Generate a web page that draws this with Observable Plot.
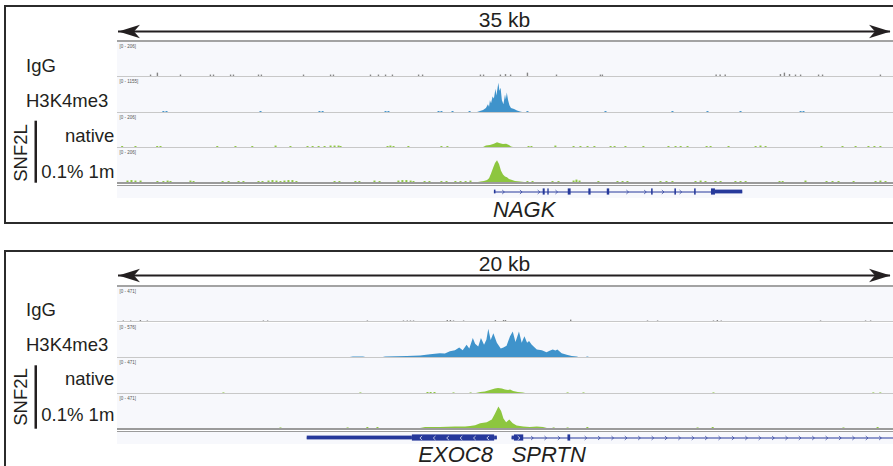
<!DOCTYPE html>
<html><head><meta charset="utf-8">
<script src="https://cdn.jsdelivr.net/npm/d3@7"></script>
<script src="https://cdn.jsdelivr.net/npm/@observablehq/plot@0.6"></script>
<style>
body{margin:0;background:#fff;}
#root{position:relative;width:893px;height:466px;overflow:hidden;background:#fff;font-family:"Liberation Sans",Arial,Helvetica,sans-serif;color:#231f20}
#root svg{position:absolute;display:block}
</style></head><body><div id="root"></div>
<script>
// ---------------- DATA ----------------
const trackNames = ["IgG", "H3K4me3", "native", "0.1% 1m"];
const groupLabel = "SNF2L";

// Panel A: NAGK locus, 35 kb window (positions in kb from window start)
const spanA = 35;
const scaleLabelA = "35 kb";
const rangeA = [206, 1155, 206, 206];
const igA_noise = [[1.49,9],[1.80,21],[2.84,9],[4.19,9],[4.33,9],[5.10,9],[5.23,9],[6.36,9],[6.49,9],[8.39,9],[9.61,9],[9.74,9],[11.41,9],[11.77,9],[12.09,9],[12.40,9],[13.58,9],[13.76,9],[16.37,9],[16.51,9],[17.27,9],[17.50,12],[17.73,9],[18.49,21],[19.80,9],[21.78,9],[21.87,9],[27.00,9],[27.18,9],[27.41,9],[29.90,12],[30.08,21],[30.31,12],[30.58,9],[30.81,9],[31.62,9],[31.80,9],[34.41,9]];
const h3A_peak = [[16.24,0],[16.37,33],[16.51,66],[16.64,132],[16.73,264],[16.78,180],[16.82,396],[16.87,297],[16.94,528],[17.00,462],[17.07,792],[17.11,560],[17.14,700],[17.20,990],[17.25,726],[17.30,825],[17.36,396],[17.43,264],[17.50,594],[17.54,430],[17.58,660],[17.64,396],[17.70,231],[17.77,132],[17.91,99],[18.04,50],[18.18,17],[18.27,0]];
const h3A_noise = [[2.07,33],[2.21,33],[6.45,33],[9.11,33],[9.25,33],[12.09,33],[12.22,33],[14.48,33],[14.61,33],[15.11,33],[15.88,33],[18.49,33],[22.01,33],[25.03,33],[26.61,33],[28.10,33],[30.81,33],[30.94,33]];
const natA_peak = [[16.51,0],[16.64,9],[16.82,12],[17.00,21],[17.14,29],[17.27,24],[17.41,18],[17.55,21],[17.68,12],[17.77,3],[17.86,0]];
const natA_noise = [[0.21,6],[0.81,6],[1.79,6],[1.94,6],[4.50,6],[5.32,6],[6.08,6],[7.13,9],[7.80,6],[8.57,6],[8.80,6],[9.07,6],[9.34,6],[9.61,9],[9.79,9],[9.97,9],[10.06,6],[12.18,6],[12.31,9],[12.45,6],[13.12,6],[14.61,6],[14.88,6],[18.54,6],[18.67,6],[19.75,9],[20.57,6],[20.88,6],[21.20,6],[21.51,6],[22.24,6],[22.42,6],[22.91,6],[23.72,6],[24.85,6],[25.17,6],[25.40,6],[25.71,6],[26.57,6],[26.75,6],[27.56,6],[28.78,6],[29.00,9],[29.23,6],[31.75,6],[32.70,6],[33.29,6],[33.87,6],[34.14,6],[34.41,6]];
const digA_peak = [[16.28,0],[16.40,3],[16.55,6],[16.69,12],[16.78,24],[16.87,53],[16.96,88],[17.05,118],[17.14,135],[17.23,112],[17.32,71],[17.41,47],[17.50,35],[17.59,29],[17.68,18],[17.82,12],[17.95,6],[18.18,3],[18.36,0]];
const digA_noise = [[0.45,9],[0.63,12],[0.81,9],[1.04,9],[1.80,6],[2.07,6],[2.26,9],[2.39,6],[3.29,9],[3.43,6],[4.74,6],[5.01,6],[5.46,6],[5.68,6],[6.36,6],[6.54,6],[6.81,9],[6.99,12],[7.17,9],[7.35,6],[7.53,9],[7.71,12],[7.89,12],[8.07,6],[9.79,6],[10.01,6],[10.73,6],[10.91,6],[11.59,9],[11.82,6],[12.67,9],[12.85,12],[13.03,12],[13.22,9],[13.35,6],[13.85,6],[14.07,6],[14.61,6],[14.84,6],[15.24,6],[15.47,6],[15.70,6],[15.92,9],[18.49,6],[18.72,6],[19.62,6],[19.89,6],[20.57,9],[20.70,15],[20.84,9],[21.69,6],[22.55,6],[22.78,6],[23.00,6],[24.49,6],[24.76,6],[25.03,6],[26.07,6],[26.30,9],[26.52,6],[26.97,6],[27.20,6],[27.87,6],[28.10,6],[28.33,6],[29.86,6],[30.00,6],[31.03,9],[31.98,6],[32.25,6],[32.52,6],[33.20,6],[34.19,6],[34.41,9],[34.64,6]];
const genesA = [{name: "NAGK", start: 17.00, end: 28.20, strand: "+"}];
const cdsA = [[19.20,19.29],[19.41,19.47],[20.33,20.46],[21.26,21.36],[22.09,22.20],[24.09,24.16],[25.14,25.21],[26.03,26.10],[26.79,26.97]];
const utrA = [[17.00,17.07],[26.97,28.20]];

// Panel B: EXOC8 / SPRTN locus, 20 kb window
const spanB = 20;
const scaleLabelB = "20 kb";
const rangeB = [471, 576, 471, 471];
const igB_noise = [[0.15,8],[0.34,8],[0.59,14],[0.77,8],[3.76,8],[3.87,8],[6.44,8],[7.37,8],[7.47,8],[7.55,8],[7.63,8],[8.50,14],[8.58,14],[8.66,8],[8.92,8],[9.74,14],[9.95,14],[10.00,14],[11.68,20],[13.66,8],[13.92,8],[15.36,8],[15.46,14],[15.56,8],[18.12,8],[19.28,8],[19.41,8]];
const h3B_peak = [[6.00,0],[6.08,8],[6.34,8],[6.40,0],[6.85,0],[6.91,8],[7.47,16],[7.81,25],[8.07,50],[8.32,66],[8.45,60],[8.58,99],[8.71,116],[8.82,165],[8.91,116],[9.01,215],[9.08,149],[9.17,330],[9.23,231],[9.31,182],[9.38,330],[9.46,215],[9.52,300],[9.57,495],[9.63,297],[9.70,413],[9.79,248],[9.89,149],[9.96,165],[10.04,198],[10.13,363],[10.20,446],[10.27,264],[10.36,446],[10.43,248],[10.50,363],[10.57,248],[10.62,280],[10.69,215],[10.82,132],[10.95,116],[11.07,83],[11.15,110],[11.23,132],[11.30,115],[11.35,132],[11.46,66],[11.59,41],[11.72,16],[11.85,8],[11.89,0]];
const h3B_noise = [[12.11,8]];
const natB_peak = [[9.25,0],[9.36,14],[9.48,20],[9.61,41],[9.74,61],[9.82,68],[9.92,61],[10.00,47],[10.08,41],[10.13,47],[10.21,27],[10.33,14],[10.46,7],[10.52,0]];
const natB_noise = [[2.73,8],[6.26,8],[7.99,14],[8.07,14],[8.17,14],[8.66,8],[9.10,8],[11.60,8],[12.01,8],[15.36,8],[19.48,8],[19.66,8]];
const digB_peak = [[7.81,0],[7.94,14],[8.32,14],[8.71,20],[8.97,20],[9.10,27],[9.23,41],[9.36,68],[9.53,81],[9.66,122],[9.74,203],[9.83,306],[9.90,243],[9.96,135],[10.03,81],[10.11,122],[10.20,68],[10.30,34],[10.47,20],[10.64,14],[10.82,20],[10.98,14],[11.08,0]];
const digB_noise = [[4.20,8],[5.93,8],[6.44,14],[6.70,14],[11.24,8],[11.60,8],[12.11,14],[14.95,8],[15.34,14],[18.71,8],[19.59,14]];
const genesB = [{name: "EXOC8", start: 4.89, end: 9.79, strand: "-"}, {name: "SPRTN", start: 10.17, end: 20, strand: "+"}];
const cdsB = [[7.60,9.72],[10.23,10.47],[11.61,11.68]];
const utrB = [[4.89,7.60],[9.72,9.79],[10.17,10.23]];

// ---------------- STYLE / LAYOUT ----------------
const ink = "#231f20";
const bgTrack = "#f7f8fc";
const geneColor = "#26399b";
const trackColors = ["#858585", "#3f93cb", "#8dc63f", "#8dc63f"];
const noiseWidths = [1.4, 2, 2, 2];
const fontFam = "'Liberation Sans', Arial, Helvetica, sans-serif";
const trackLeft = 117, trackWidth = 776;

const root = document.getElementById("root");
function put(el, left, top) { el.style.left = left + "px"; el.style.top = top + "px"; root.appendChild(el); return el; }
function box(left, top, w, h, css) {
  const d = document.createElement("div");
  Object.assign(d.style, {position: "absolute", left: left + "px", top: top + "px", width: w + "px", height: h + "px", boxSizing: "border-box"}, css);
  root.appendChild(d);
  return d;
}

const headLeft = {draw(c) { c.moveTo(0, 0); c.lineTo(21.5, -6.7); c.lineTo(15.5, 0); c.lineTo(21.5, 6.7); c.closePath(); }};
const headRight = {draw(c) { c.moveTo(0, 0); c.lineTo(-21.5, -6.7); c.lineTo(-15.5, 0); c.lineTo(-21.5, 6.7); c.closePath(); }};
const chevRight = {draw(c) { c.moveTo(-1.1, -2); c.lineTo(1.1, 0); c.lineTo(-1.1, 2); }};
const chevLeft = {draw(c) { c.moveTo(1.1, -2); c.lineTo(-1.1, 0); c.lineTo(1.1, 2); }};

function scaleBar(span, label, top) {
  const d = [{span, label}];
  put(Plot.plot({
    width: trackWidth, height: 40, marginLeft: 1, marginRight: 3, marginTop: 0, marginBottom: 0,
    x: {domain: [0, span], axis: null},
    y: {domain: [0, 1], range: [31, 0], axis: null},
    style: {fontFamily: fontFam, overflow: "visible"},
    marks: [
      Plot.ruleY(d, {y: 0, x1: 0, x2: (v) => v.span, stroke: ink, strokeWidth: 2}),
      Plot.dot(d, {x: 0, y: 0, r: 6, symbol: headLeft, fill: ink, stroke: "none"}),
      Plot.dot(d, {x: (v) => v.span, y: 0, r: 6, symbol: headRight, fill: ink, stroke: "none"}),
      Plot.text(d, {x: (v) => v.span / 2, y: 0, text: (v) => v.label, dy: -4.5, lineAnchor: "bottom", fontSize: 21, fill: ink})
    ]
  }), trackLeft, top);
}

function track(span, max, peak, noise, color, nw, top, height) {
  put(Plot.plot({
    width: trackWidth, height, margin: 0,
    x: {domain: [0, span], axis: null},
    y: {domain: [0, max], range: [height - 1, 1], axis: null},
    style: {background: bgTrack, fontFamily: fontFam},
    marks: [
      Plot.areaY(peak, {x: (d) => d[0], y: (d) => d[1], fill: color}),
      Plot.ruleX(noise, {x: (d) => d[0], y1: 0, y2: (d) => d[1], stroke: color, strokeWidth: nw}),
      Plot.ruleY([0], {stroke: "#c8c8c8", strokeWidth: 1}),
      Plot.text([`[0 - ${max}]`], {text: (t) => t, frameAnchor: "top-left", dx: 2, dy: 2.5, fontSize: 4.5, fill: "#555"})
    ]
  }), trackLeft, top);
}

function inside(x, list, pad) { return list.some(([a, b]) => x >= a - pad && x <= b + pad); }

function geneTrack(span, genes, cds, utr, step, top) {
  const chevOn = [], chevIn = [];
  for (const g of genes) {
    for (const x of d3.range(g.start + step / 2, g.end, step)) {
      const item = {x, strand: g.strand};
      if (inside(x, cds, -0.05)) chevIn.push(item);
      else if (!inside(x, cds, step * 0.2) && !inside(x, utr, step * 0.2)) chevOn.push(item);
    }
  }
  put(Plot.plot({
    width: trackWidth, height: 12, margin: 0,
    x: {domain: [0, span], axis: null},
    y: {domain: [-6.5, 5.5], axis: null},
    style: {background: bgTrack},
    marks: [
      Plot.ruleY(genes, {y: 0, x1: "start", x2: "end", stroke: geneColor, strokeWidth: 1}),
      Plot.rect(utr, {x1: (d) => d[0], x2: (d) => d[1], y1: -1.9, y2: 1.9, fill: geneColor}),
      Plot.rect(cds, {x1: (d) => d[0], x2: (d) => d[1], y1: -3.1, y2: 3.1, fill: geneColor}),
      Plot.dot(chevOn.filter((d) => d.strand === "+"), {x: "x", y: 0, r: 2, symbol: chevRight, fill: "none", stroke: geneColor, strokeWidth: 0.7}),
      Plot.dot(chevOn.filter((d) => d.strand === "-"), {x: "x", y: 0, r: 2, symbol: chevLeft, fill: "none", stroke: geneColor, strokeWidth: 0.7}),
      Plot.dot(chevIn.filter((d) => d.strand === "+"), {x: "x", y: 0, r: 2, symbol: chevRight, fill: "none", stroke: "#fff", strokeWidth: 0.7}),
      Plot.dot(chevIn.filter((d) => d.strand === "-"), {x: "x", y: 0, r: 2, symbol: chevLeft, fill: "none", stroke: "#fff", strokeWidth: 0.7})
    ]
  }), trackLeft, top);
}

const panels = [
  {span: spanA, label: scaleLabelA, ranges: rangeA,
   series: [[[], igA_noise], [h3A_peak, h3A_noise], [natA_peak, natA_noise], [digA_peak, digA_noise]],
   genes: genesA, cds: cdsA, utr: utrA, step: 0.8,
   border: [5, 219], scaleTop: 0, topLine: 40, tops: [42, 77, 113, 148], heights: [35, 36, 35, 35],
   dbl: [182, 184.8], geneTop: 186,
   labelY: [71.7, 107.3, 141.7, 177.7], groupY: 153, bar: [120.7, 182.7],
   names: [["NAGK", 493, 217]]},
  {span: spanB, label: scaleLabelB, ranges: rangeB,
   series: [[[], igB_noise], [h3B_peak, h3B_noise], [natB_peak, natB_noise], [digB_peak, digB_noise]],
   genes: genesB, cds: cdsB, utr: utrB, step: 0.345,
   border: [250, 260], scaleTop: 244, topLine: 285, tops: [287, 323, 358, 394], heights: [35, 35, 36, 35],
   dbl: [428, 430.8], geneTop: 431.5,
   labelY: [316, 351, 385, 421], groupY: 397, bar: [365.3, 428.7],
   names: [["EXOC8", 418.3, 461.7], ["SPRTN", 511.7, 461.7]]}
];

const overlay = d3.create("svg").attr("width", 893).attr("height", 466)
  .style("left", "0px").style("top", "0px").style("pointer-events", "none")
  .attr("font-family", fontFam).attr("fill", ink);

for (const p of panels) {
  box(4, p.border[0], 920, p.border[1], {border: "2px solid #2b2b2b"});
  scaleBar(p.span, p.label, p.scaleTop);
  box(trackLeft, p.topLine, trackWidth, 2, {background: "#a3a3a3"});
  p.series.forEach(([peak, noise], i) => track(p.span, p.ranges[i], peak, noise, trackColors[i], noiseWidths[i], p.tops[i], p.heights[i]));
  geneTrack(p.span, p.genes, p.cds, p.utr, p.step, p.geneTop);
  box(trackLeft, p.dbl[0], trackWidth, 1.6, {background: "#9b9b9b"});
  box(trackLeft, p.dbl[1], trackWidth, 1.6, {background: "#9b9b9b"});

  trackNames.forEach((name, i) => {
    const right = i >= 2;
    overlay.append("text").attr("x", right ? 114.3 : 26).attr("y", p.labelY[i])
      .attr("text-anchor", right ? "end" : "start").attr("font-size", 18.5).text(name);
  });
  overlay.append("text").attr("transform", `translate(26.7,${p.groupY}) rotate(-90)`)
    .attr("text-anchor", "middle").attr("font-size", 18.5).text(groupLabel);
  overlay.append("rect").attr("x", 34.5).attr("y", p.bar[0]).attr("width", 2.5).attr("height", p.bar[1] - p.bar[0]).attr("fill", ink);
  for (const [n, x, y] of p.names) {
    overlay.append("text").attr("x", x).attr("y", y).attr("font-size", 22).attr("font-style", "italic").text(n);
  }
}
root.appendChild(overlay.node());
</script></body></html>
